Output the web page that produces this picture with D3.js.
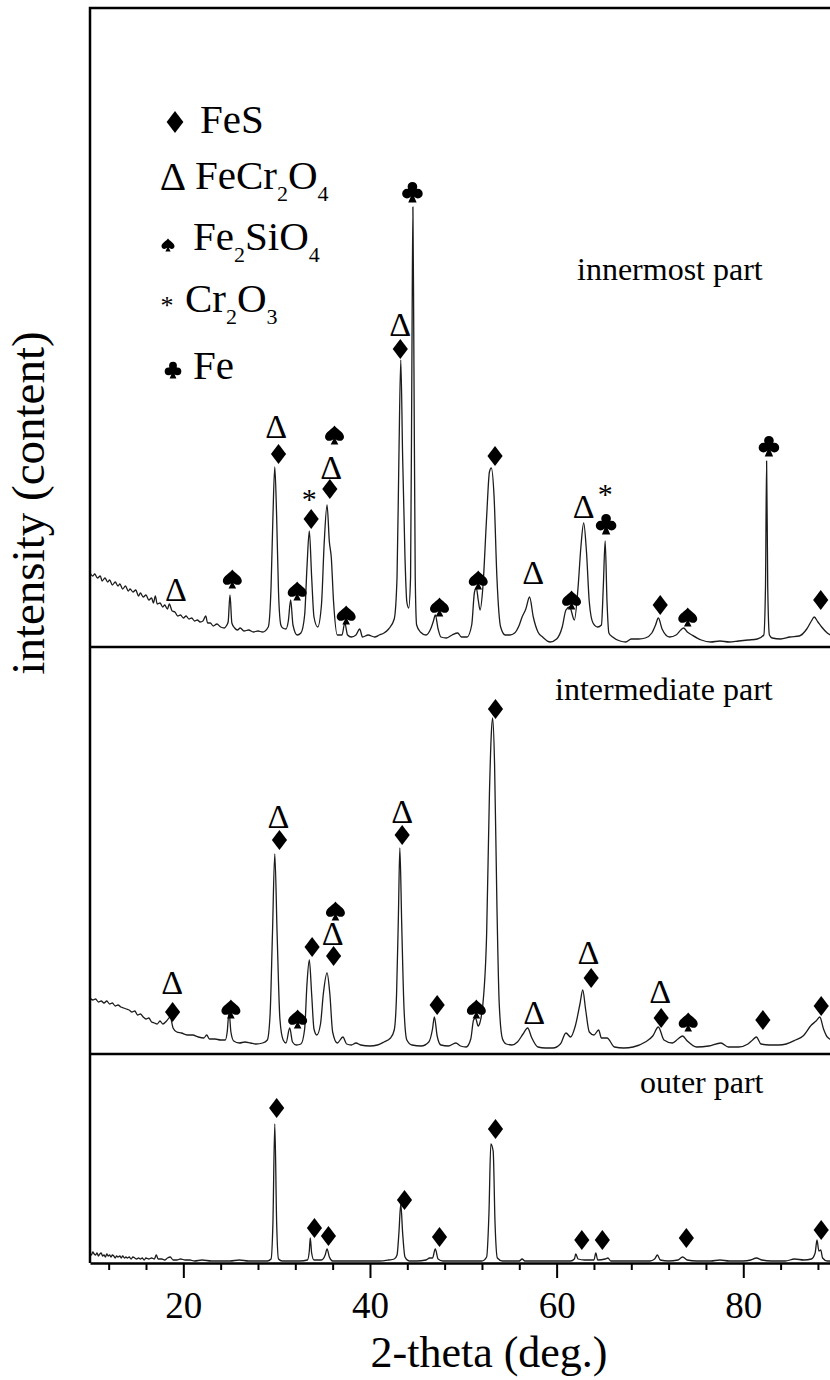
<!DOCTYPE html>
<html>
<head>
<meta charset="utf-8">
<script src="https://cdn.jsdelivr.net/npm/d3@7/dist/d3.min.js"></script>
<style>
  body { margin: 0; padding: 0; background: #fff; }
</style>
</head>
<body>
<div id="main"></div>
<script>
// ---- data: [2-theta, intensity (a.u.)] ----
const innermost = [
  [10,74],[10.3,71],[10.5,73],[10.8,69],[11.1,71],[11.3,66],[11.6,69],[11.9,65],[12.1,67],[12.4,62],
  [12.7,65],[13,61],[13.2,63],[13.5,58],[13.8,61],[14.1,56],[14.3,58],[14.6,55],[14.9,57],[15.2,51],
  [15.4,54],[15.7,50],[16,52],[16.3,47],[16.6,49],[16.8,44],[17,51],[17.2,43],[17.5,44],[17.8,40],
  [18,42],[18.3,38],[18.5,43],[18.8,36],[19.1,35],[19.4,31],[19.7,32],[20,29],[20.3,31],[20.6,28],
  [20.9,29],[21.2,26],[21.5,27],[21.8,25],[22.1,26],[22.4,31],[22.6,24],[22.9,24],[23.2,21],[23.6,23],
  [24,20],[24.4,19],[24.6,21],[24.8,25],[25,52],[25.2,24],[25.5,19],[25.8,17],[26.1,19],[26.5,16],
  [27,17],[27.5,15],[28,16],[28.5,15],[29.1,20],[29.4,60],[29.6,130],[29.8,180],[30,130],[30.2,55],
  [30.45,22],[30.65,19],[31,18],[31.25,26],[31.5,47],[31.75,22],[32.2,12],[32.6,14],[33,32],[33.25,80],
  [33.5,116],[33.75,70],[34,30],[34.4,20],[34.8,42],[35.1,105],[35.4,142],[35.65,105],[35.85,90],[36.1,45],
  [36.5,12],[37,12],[37.3,24],[37.6,12],[38,10],[38.5,12],[38.9,18],[39.2,10],[39.8,12],[40.5,10],
  [41,12],[41.5,14],[42,18],[42.6,28],[42.9,70],[43.1,190],[43.3,287],[43.5,190],[43.75,90],[43.95,45],
  [44.15,39],[44.35,70],[44.5,300],[44.6,440],[44.7,300],[44.85,70],[45,22],[45.4,15],[46,12],[46.5,18],
  [46.8,26],[47,32],[47.3,18],[47.6,10],[48.2,9],[48.8,12],[49.4,14],[49.8,10],[50.4,10],[50.9,22],
  [51.2,55],[51.4,59],[51.6,47],[51.8,37],[52.1,60],[52.5,130],[52.8,175],[53,179],[53.3,150],[53.6,70],
  [54,20],[54.5,12],[55,12],[55.5,14],[56,22],[56.3,30],[56.7,38],[57.1,50],[57.5,30],[58,15],
  [58.5,10],[59.3,5],[60,8],[60.6,20],[61,37],[61.4,40],[61.9,27],[62.3,60],[62.6,100],[62.9,124],
  [63.2,95],[63.5,45],[63.9,24],[64.4,20],[64.8,22],[65,60],[65.2,106],[65.4,45],[65.6,14],[66,10],
  [66.8,6],[67.4,5],[68,8],[68.8,8],[69.5,9],[70.2,14],[70.6,22],[70.9,29],[71.3,18],[72.1,10],
  [72.8,12],[73.3,17],[73.6,19],[74,15],[74.5,12],[75.5,7],[76.5,5],[77.5,6],[78.5,5],[79.5,6],
  [80.5,7],[81.5,8],[82.2,12],[82.38,60],[82.5,186],[82.62,60],[82.8,12],[83.1,9],[84,8],[85,10],
  [86,11],[86.8,18],[87.3,26],[87.6,30],[88,25],[88.4,20],[89,14],[90,10]
];
const intermediate = [
  [10,56],[10.3,54],[10.6,55],[10.9,52],[11.2,53],[11.5,51],[11.8,53],[12.1,50],[12.4,51],[12.7,48],
  [13,49],[13.3,47],[13.6,46],[13.9,45],[14.2,44],[14.5,42],[14.8,43],[15.1,39],[15.4,40],[15.7,37],
  [16,35],[16.3,36],[16.6,32],[16.9,31],[17.2,30],[17.5,33],[17.8,30],[18.2,33],[18.6,37],[18.9,26],
  [19.3,22],[19.8,21],[20.4,19],[21,19],[21.6,17],[22.2,16],[22.5,19],[22.8,15],[23.4,15],[24,14],
  [24.5,14],[24.7,22],[24.9,42],[25.1,22],[25.4,13],[26,11],[26.6,12],[27.2,11],[27.8,10],[28.5,11],
  [29,14],[29.3,40],[29.55,120],[29.8,200],[30.05,120],[30.35,35],[30.7,14],[31,11],[31.4,26],[31.7,12],
  [32.1,9],[32.6,10],[33,25],[33.25,70],[33.5,94],[33.75,60],[34,25],[34.3,19],[34.7,30],[35,60],
  [35.4,81],[35.7,60],[36,22],[36.5,11],[37.1,17],[37.5,10],[38,9],[38.5,11],[39,9],[40,8],
  [40.8,9],[41.5,12],[42.2,16],[42.6,24],[42.85,60],[43.05,140],[43.2,206],[43.4,130],[43.65,45],[43.95,14],
  [44.5,9],[45.5,8],[46.3,12],[46.7,25],[46.9,37],[47.2,18],[47.6,9],[48.4,8],[49.2,11],[49.7,8],
  [50.3,7],[50.8,15],[51.1,34],[51.3,36],[51.6,28],[51.8,32],[52.1,50],[52.5,120],[52.8,260],[53,320],
  [53.15,336],[53.35,290],[53.6,150],[53.85,50],[54.2,15],[54.6,10],[55.2,9],[55.8,12],[56.4,20],[56.9,26],
  [57.3,17],[58,7],[58.8,6],[59.6,6],[60.4,10],[61,21],[61.5,17],[62,28],[62.5,50],[62.8,64],
  [63.1,45],[63.5,22],[64,19],[64.5,24],[64.8,16],[65.4,16],[66.2,7],[67.2,6],[68.2,7],[69.5,12],
  [70.3,18],[70.9,27],[71.5,14],[72.4,11],[73,15],[73.5,18],[74,13],[75,7],[76.3,8],[77.6,11],
  [78.4,7],[79.5,7],[80.5,10],[81,14],[81.4,17],[81.9,10],[82.8,9],[83.8,9],[84.6,10],[85.6,14],
  [86.4,18],[87.3,29],[87.8,33],[88.2,37],[88.6,25],[89,17],[90,12]
];
const outer = [
  [10,10],[10.15,8],[10.3,11],[10.45,9],[10.6,8],[10.75,10],[10.9,7],[11.05,9],[11.2,10],[11.35,7],
  [11.5,8],[11.65,6],[11.8,9],[11.95,7],[12.1,8],[12.25,6],[12.4,8],[12.55,7],[12.7,5],[12.85,7],
  [13,6],[13.2,7],[13.35,5],[13.5,7],[13.7,5],[13.85,6],[14,5],[14.2,6],[14.4,4],[14.6,6],
  [14.8,5],[15,4],[15.2,5],[15.4,4],[15.6,5],[15.8,3],[16,5],[16.3,4],[16.6,5],[16.9,4],
  [17.1,8],[17.3,4],[17.7,4],[18,3],[18.3,5],[18.6,6],[18.9,3],[19.3,3],[19.7,4],[20.2,3],
  [20.7,3],[21.2,2],[22,3],[23,2],[24,2],[25,2],[26,3],[27,2],[28,2],[29,2],
  [29.4,4],[29.6,40],[29.8,139],[30,40],[30.2,4],[30.6,2],[31.5,2],[32.5,2],[33.3,3],[33.5,12],
  [33.6,25],[33.75,10],[34,3],[34.8,3],[35.2,8],[35.4,14],[35.65,6],[36,2],[37,2],[38,2],
  [39,2],[40,2],[41,2],[42,3],[42.6,4],[42.9,8],[43.1,30],[43.3,59],[43.5,30],[43.75,6],
  [44.2,2],[45,2],[46,3],[46.4,5],[46.7,5],[47,14],[47.3,4],[47.8,2],[49,2],[50,2],
  [51,2],[52,2],[52.5,6],[52.75,50],[52.95,119],[53.2,112],[53.4,40],[53.65,5],[54.2,2],[55,2],
  [56,2],[56.3,4],[56.6,2],[58,2],[60,2],[61.5,2],[61.9,4],[62.05,9],[62.3,4],[63,3],
  [64,3],[64.2,10],[64.4,3],[65.2,4],[65.5,5],[65.8,2],[67,2],[68.5,2],[70,2],[70.5,4],
  [70.8,8],[71.1,3],[72,2],[73,3],[73.5,6],[74,3],[75,2],[76.5,2],[77.5,3],[78.5,2],
  [80,2],[80.8,3],[81.4,5],[82,3],[83,2],[84.5,2],[85.5,4],[86.5,3],[87.3,4],[87.7,10],
  [87.9,23],[88.1,12],[88.3,13],[88.5,5],[89,2],[90,2]
];

// phase markers: [symbol, 2-theta, intensity]
const innermostMarks = [
  ['delta',19.2,57],['spade',25.25,68],['delta',29.95,220],['diamond',30.2,193],['spade',32.2,56],
  ['star',33.5,152],['diamond',33.7,128],['spade',36.2,212],['delta',35.85,179],['diamond',35.7,158],
  ['spade',37.45,32],['delta',43.25,322],['diamond',43.25,298],['club',44.55,455],['spade',47.45,40],
  ['spade',51.6,67],['diamond',53.4,191],['delta',57.5,74],['spade',61.6,47],['delta',62.9,140],
  ['star',65.2,157],['club',65.3,123],['diamond',71.1,42],['spade',74.05,30],['club',82.75,201],
  ['diamond',88.3,47]
];
const intermediateMarks = [
  ['delta',18.8,71],['diamond',18.85,42],['spade',25.1,45],['delta',30.2,237],['diamond',30.3,214],
  ['spade',32.25,35],['diamond',33.8,107],['spade',36.3,143],['delta',36.0,120],['diamond',36.1,98],
  ['delta',43.45,242],['diamond',43.45,219],['diamond',47.2,49],['spade',51.4,45],['diamond',53.45,345],
  ['delta',57.6,41],['delta',63.4,101],['diamond',63.7,76],['delta',71.1,62],['diamond',71.2,36],
  ['spade',74.1,32],['diamond',82.1,34],['diamond',88.35,48]
];
const outerMarks = [
  ['diamond',30.0,155],['diamond',34.05,35],['diamond',35.55,27],['diamond',43.7,63],['diamond',47.45,26],
  ['diamond',53.45,134],['diamond',62.7,23],['diamond',64.9,23],['diamond',73.9,25],['diamond',88.35,33]
];

const panelNames = ['innermost part', 'intermediate part', 'outer part'];
const legendSymbols = ['diamond', 'delta', 'spade', 'star', 'club'];
const legendLabels = ['FeS', 'FeCr2O4', 'Fe2SiO4', 'Cr2O3', 'Fe'];
const xTicksMajor = [20, 40, 60, 80];
const xTicksMinor = [12, 16, 24, 28, 32, 36, 44, 48, 52, 56, 64, 68, 72, 76, 84, 88];

// ---- layout ----
const WIDTH = 830, HEIGHT = 1380;
const LEFT = 90, RIGHT = 836.6, TOP = 8, BOTTOM = 1263;
const panelEdges = [TOP, 647, 1054, BOTTOM];
const panelLabelPos = [[577, 280], [555, 700], [640, 1093]];
const legendRows = [
  {sx: 175, sy: 122, tx: 200, ty: 133, size: 22},
  {sx: 173, sy: 176, tx: 195, ty: 189, size: 41},
  {sx: 168, sy: 245, tx: 193, ty: 250, size: 13},
  {sx: 167, sy: 302, tx: 185, ty: 312, size: 26},
  {sx: 173, sy: 370, tx: 193, ty: 379, size: 17}
];
const LINE = '#1c1c1c';
const SERIF = '"Liberation Serif", "Times New Roman", serif';

const svg = d3.select('#main').append('svg')
  .attr('width', WIDTH).attr('height', HEIGHT)
  .style('display', 'block');

const x = d3.scaleLinear().domain([10, 90]).range([LEFT, RIGHT]);

const addText = (g, str, size, tx, ty, anchor = 'start', rot = 0) => g.append('text')
  .attr('transform', `translate(${tx},${ty}) rotate(${rot})`)
  .attr('font-family', SERIF)
  .attr('font-size', size)
  .attr('text-anchor', anchor)
  .attr('fill', '#000')
  .text(str);

// symbol painter
const drawMark = (g, type, cx, cy, size) => {
  if (type === 'diamond') {
    const h = size / 2, w = size * 0.38;
    g.append('path')
      .attr('d', `M${cx},${cy - h}L${cx + w},${cy}L${cx},${cy + h}L${cx - w},${cy}Z`)
      .attr('fill', '#000');
  } else if (type === 'delta') {
    addText(g, '\u0394', size, cx, cy + size * 0.33, 'middle');
  } else if (type === 'star') {
    addText(g, '*', size, cx, cy + size * 0.47, 'middle');
  } else if (type === 'spade') {
    g.append('path')
      .attr('transform', `translate(${cx},${cy}) scale(${size})`)
      .attr('d', 'M0,-0.5C0.1,-0.32 0.5,-0.16 0.5,0.1C0.5,0.3 0.25,0.38 0.06,0.22L0.2,0.5L-0.2,0.5L-0.06,0.22C-0.25,0.38 -0.5,0.3 -0.5,0.1C-0.5,-0.16 -0.1,-0.32 0,-0.5Z')
      .attr('fill', '#000');
  } else if (type === 'club') {
    const p = d3.path();
    [[0, -0.25], [-0.26, 0.08], [0.26, 0.08], [0, 0.04]].forEach(([px, py], i) => {
      const r = i === 3 ? 0.16 : 0.23;
      p.moveTo(px + r, py);
      p.arc(px, py, r, 0, 2 * Math.PI);
    });
    p.moveTo(0, 0.04); p.lineTo(0.2, 0.5); p.lineTo(-0.2, 0.5); p.closePath();
    g.append('path')
      .attr('transform', `translate(${cx},${cy}) scale(${size})`)
      .attr('d', p.toString())
      .attr('fill', '#000');
  }
};
const markSize = {diamond: 20, delta: 34, spade: 19, club: 21, star: 30};

// panels
const series = [innermost, intermediate, outer];
const marks = [innermostMarks, intermediateMarks, outerMarks];
series.forEach((data, i) => {
  const bottom = panelEdges[i + 1];
  const top = panelEdges[i];
  const y = d3.scaleLinear().domain([0, bottom - top]).range([bottom, top]);
  const line = d3.line().x(d => x(d[0])).y(d => y(d[1])).curve(d3.curveMonotoneX);
  const g = svg.append('g');
  g.append('path')
    .datum(data)
    .attr('d', line)
    .attr('fill', 'none')
    .attr('stroke', LINE)
    .attr('stroke-width', 1.3)
    .attr('stroke-linejoin', 'round');
  marks[i].forEach(([type, tx, ti]) => drawMark(g, type, x(tx), y(ti), markSize[type]));
  addText(g, panelNames[i], 32, panelLabelPos[i][0], panelLabelPos[i][1]);
});

// frame and separators
svg.append('path')
  .attr('d', `M${LEFT},${BOTTOM}V${TOP}H${RIGHT}V${BOTTOM}`)
  .attr('fill', 'none').attr('stroke', '#000').attr('stroke-width', 2.5);
panelEdges.slice(1, 3).forEach(py => {
  svg.append('line')
    .attr('x1', LEFT).attr('x2', RIGHT).attr('y1', py).attr('y2', py)
    .attr('stroke', '#000').attr('stroke-width', 2.5);
});

// x axis
const axisMajor = d3.axisBottom(x).tickValues(xTicksMajor).tickSize(15).tickSizeOuter(0)
  .tickPadding(14).tickFormat(d3.format('d'));
const gMaj = svg.append('g').attr('transform', `translate(0,${BOTTOM})`).call(axisMajor)
  .attr('font-family', SERIF).attr('font-size', 37);
gMaj.select('.domain').attr('stroke', '#000').attr('stroke-width', 2.5);
gMaj.selectAll('.tick line').attr('stroke', '#000').attr('stroke-width', 2);
gMaj.selectAll('.tick text').attr('fill', '#000');
const axisMinor = d3.axisBottom(x).tickValues(xTicksMinor).tickSize(7).tickSizeOuter(0).tickFormat('');
const gMin = svg.append('g').attr('transform', `translate(0,${BOTTOM})`).call(axisMinor);
gMin.select('.domain').remove();
gMin.selectAll('.tick line').attr('stroke', '#000').attr('stroke-width', 2);

// axis titles
addText(svg, '2-theta (deg.)', 44, 489, 1367, 'middle');
addText(svg, 'intensity (content)', 47, 44, 503, 'middle', -90);

// legend
const legend = svg.append('g');
legendLabels.forEach((label, i) => {
  const r = legendRows[i];
  drawMark(legend, legendSymbols[i], r.sx, r.sy, r.size);
  const t = addText(legend, null, 41, r.tx, r.ty);
  let sub = false;
  label.split(/(\d)/).filter(s => s.length).forEach(part => {
    const isSub = /\d/.test(part);
    const ts = t.append('tspan').text(part);
    if (isSub) ts.attr('font-size', 22);
    if (isSub && !sub) ts.attr('dy', 12);
    if (!isSub && sub) ts.attr('dy', -12);
    sub = isSub;
  });
});
</script>
</body>
</html>
